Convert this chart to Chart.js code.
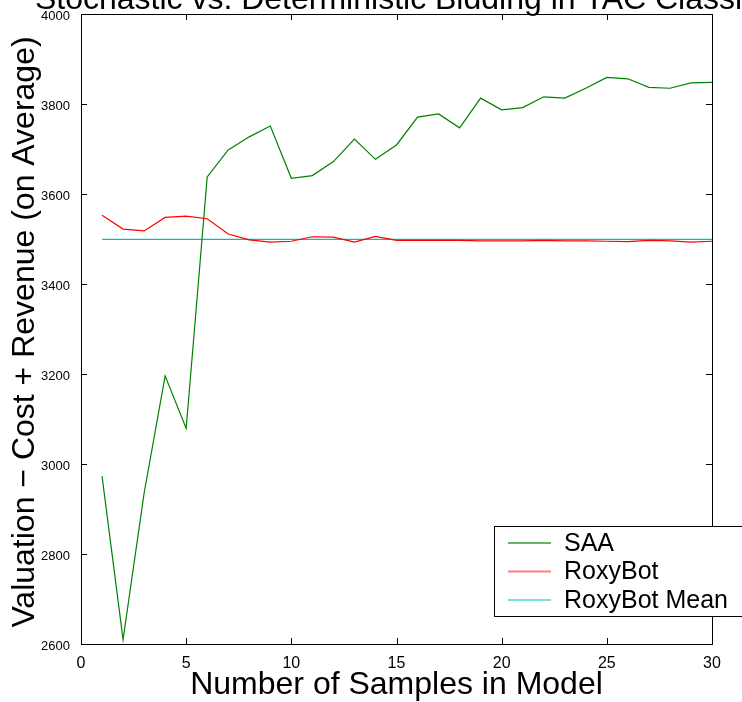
<!DOCTYPE html>
<html>
<head>
<meta charset="utf-8">
<script src="https://cdn.jsdelivr.net/npm/chart.js@4/dist/chart.umd.min.js"></script>
<style>
  html, body { margin: 0; padding: 0; background: #fff; }
  canvas { display: block; }
</style>
</head>
<body>
<canvas id="c" width="742" height="702"></canvas>
<script>
// ---- data ----
const samples = [1,2,3,4,5,6,7,8,9,10,11,12,13,14,15,16,17,18,19,20,21,22,23,24,25,26,27,28,29,30];
const saaValues = [2973, 2610, 2935, 3196, 3079, 3638, 3698, 3727, 3751, 3635,
                   3641, 3672, 3722, 3677, 3709, 3771, 3778, 3747, 3813, 3787,
                   3792, 3816, 3813, 3835, 3859, 3856, 3837, 3835, 3847, 3848];
const roxyValues = [3553, 3522, 3518, 3548, 3551, 3545, 3511, 3498, 3493, 3495,
                    3505, 3504, 3493, 3506, 3497, 3497, 3497, 3497, 3496, 3496,
                    3496, 3497, 3496, 3496, 3495, 3494, 3497, 3496, 3493, 3495];
const roxyMean = 3499;
const seriesLabels = ["SAA", "RoxyBot", "RoxyBot Mean"];
const xTickValues = [0, 5, 10, 15, 20, 25, 30];
const yTickValues = [2600, 2800, 3000, 3200, 3400, 3600, 3800, 4000];
const titleText = "Stochastic vs. Deterministic Bidding in TAC Classic";
const xTitleText = "Number of Samples in Model";
const yTitleText = "Valuation \u2212 Cost + Revenue (on Average)";

const colors = ["#008000", "#ff0000", "#00bfbf"];
const legendColors = ["rgba(0,128,0,0.6)", "rgba(255,0,0,0.5)", "rgba(0,191,191,0.5)"];
const FONT = '"Liberation Sans", Arial, Helvetica, sans-serif';

const toPts = (xs, ys) => xs.map((x, i) => ({ x: x, y: ys[i] }));

const framePlugin = {
  id: 'frame',
  afterDatasetsDraw(chart) {
    const ctx = chart.ctx;
    const a = chart.chartArea;
    const xs = chart.scales.x, ys = chart.scales.y;
    ctx.save();
    ctx.strokeStyle = '#000';
    ctx.lineWidth = 1;
    // box
    ctx.strokeRect(Math.round(a.left) + 0.5, Math.round(a.top) + 0.5,
                   Math.round(a.right - a.left), Math.round(a.bottom - a.top));
    // inward ticks
    const tl = 6;
    ctx.beginPath();
    xTickValues.slice(1, -1).forEach(v => {
      const px = Math.round(xs.getPixelForValue(v)) + 0.5;
      ctx.moveTo(px, a.bottom); ctx.lineTo(px, a.bottom - tl);
      ctx.moveTo(px, a.top); ctx.lineTo(px, a.top + tl);
    });
    yTickValues.slice(1, -1).forEach(v => {
      const py = Math.round(ys.getPixelForValue(v)) + 0.5;
      ctx.moveTo(a.left, py); ctx.lineTo(a.left + tl, py);
      ctx.moveTo(a.right, py); ctx.lineTo(a.right - tl, py);
    });
    ctx.stroke();

    // titles
    ctx.fillStyle = '#000';
    ctx.font = '32px ' + FONT;
    ctx.textAlign = 'center';
    ctx.textBaseline = 'alphabetic';
    const cx = (a.left + a.right) / 2;
    ctx.fillText(titleText, cx, 9);
    ctx.fillText(xTitleText, cx, 694);
    ctx.save();
    ctx.translate(34, 332);
    ctx.rotate(-Math.PI / 2);
    ctx.fillText(yTitleText, 0, 0);
    ctx.restore();

    // legend
    const lx = 494.5, ly = 526.5, lw = 280, lh = 90;
    ctx.fillStyle = '#fff';
    ctx.fillRect(lx, ly, lw, lh);
    ctx.strokeStyle = '#000';
    ctx.strokeRect(lx, ly, lw, lh);
    const rows = [543, 571.5, 600];
    ctx.font = '25px ' + FONT;
    ctx.textAlign = 'left';
    ctx.textBaseline = 'middle';
    seriesLabels.forEach((lab, i) => {
      ctx.strokeStyle = legendColors[i];
      ctx.lineWidth = 2;
      ctx.beginPath();
      ctx.moveTo(508, rows[i]); ctx.lineTo(551, rows[i]);
      ctx.stroke();
      ctx.fillStyle = '#000';
      ctx.fillText(lab, 564, rows[i] + 1);
    });
    ctx.restore();
  }
};

new Chart(document.getElementById('c'), {
  type: 'line',
  data: {
    datasets: [
      { label: seriesLabels[0], data: toPts(samples, saaValues), borderColor: colors[0], borderWidth: 1.2, pointRadius: 0, tension: 0, fill: false },
      { label: seriesLabels[1], data: toPts(samples, roxyValues), borderColor: colors[1], borderWidth: 1.2, pointRadius: 0, tension: 0, fill: false },
      { label: seriesLabels[2], data: toPts([samples[0], samples[samples.length - 1]], [roxyMean, roxyMean]), borderColor: colors[2], borderWidth: 1.2, pointRadius: 0, tension: 0, fill: false }
    ]
  },
  options: {
    responsive: false,
    animation: false,
    layout: { padding: { left: 0, top: 14, right: 30, bottom: 0 } },
    plugins: { legend: { display: false }, tooltip: { enabled: false }, title: { display: false } },
    scales: {
      x: {
        type: 'linear', min: 0, max: 30,
        afterBuildTicks: s => { s.ticks = xTickValues.map(v => ({ value: v })); },
        ticks: { color: '#000', font: { size: 16, family: FONT }, padding: 2, maxRotation: 0, callback: v => String(v) },
        grid: { display: false }, border: { display: false },
        afterFit: s => { s.height = 58; }
      },
      y: {
        type: 'linear', min: 2600, max: 4000,
        afterBuildTicks: s => { s.ticks = yTickValues.map(v => ({ value: v })); },
        ticks: { color: '#000', font: { size: 13, family: FONT }, padding: 3, labelOffset: 2, callback: v => String(v) },
        grid: { display: false }, border: { display: false },
        afterFit: s => { s.width = 81; }
      }
    }
  },
  plugins: [framePlugin]
});
</script>
</body>
</html>
